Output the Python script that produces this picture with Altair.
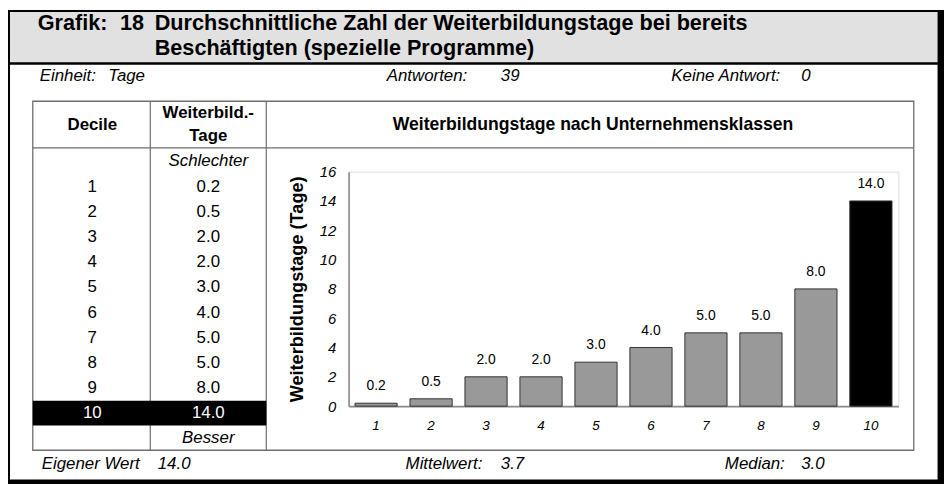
import altair as alt
import pandas as pd

# ---------------- data ----------------
deciles = [1, 2, 3, 4, 5, 6, 7, 8, 9, 10]
tage = [0.2, 0.5, 2.0, 2.0, 3.0, 4.0, 5.0, 5.0, 8.0, 14.0]
eigener_decile = 10
y_ticks = [0, 2, 4, 6, 8, 10, 12, 14, 16]

title_nr = "Grafik:"
title_num = "18"
title_l1 = "Durchschnittliche Zahl der Weiterbildungstage bei bereits"
title_l2 = "Beschäftigten (spezielle Programme)"
info_labels = ["Einheit:", "Antworten:", "Keine Antwort:"]
info_values = ["Tage", "39", "0"]
foot_labels = ["Eigener Wert", "Mittelwert:", "Median:"]
foot_values = ["14.0", "3.7", "3.0"]
head_decile = "Decile"
head_tage = ["Weiterbild.-", "Tage"]
head_chart = "Weiterbildungstage nach Unternehmensklassen"
txt_schlechter = "Schlechter"
txt_besser = "Besser"
y_title = "Weiterbildungstage (Tage)"

df = pd.DataFrame({"decile": deciles, "tage": tage})

FONT = "Liberation Sans"
OX, OY = 351.5, 171.0          # page position of plot origin
W, H = 554.5, 236.5            # plot area


def px(p):
    return p - OX


def py(p):
    return p - OY


one = alt.Data(values=[{"k": 0}])


def rect(x1, x2, y1, y2, **kw):
    return alt.Chart(one).mark_rect(**kw).encode(
        x=alt.value(px(x1)), x2=alt.value(px(x2)),
        y=alt.value(py(y1)), y2=alt.value(py(y2)))


def hline(x1, x2, y, color="#000", w=1.0):
    return alt.Chart(one).mark_rule(color=color, strokeWidth=w).encode(
        x=alt.value(px(x1)), x2=alt.value(px(x2)), y=alt.value(py(y)))


def vline(x, y1, y2, color="#000", w=1.0):
    return alt.Chart(one).mark_rule(color=color, strokeWidth=w).encode(
        x=alt.value(px(x)), y=alt.value(py(y1)), y2=alt.value(py(y2)))


def text(t, x, y, size, align="left", weight="normal", style="normal", color="#000", lh=None):
    kw = dict(align=align, baseline="middle", fontSize=size, fontWeight=weight,
              fontStyle=style, color=color, font=FONT)
    if lh is not None:
        kw["lineHeight"] = lh
    return alt.Chart(one).mark_text(**kw).encode(
        x=alt.value(px(x)), y=alt.value(py(y)), text=alt.value(t))


# ---------------- decorations ----------------
TS = 21.8
IS = 17
deco = [
    rect(8, 946, 8, 62, color="#e1e1e1"),
    hline(8, 946, 62, w=2.5),
    hline(8, 946, 9, w=2),
    vline(9, 8, 486, w=2),
    rect(945.5, 952, 8, 486, color="#000"),
    rect(8, 952, 481.5, 486, color="#000"),
    text(title_nr, 38, 21, TS, weight="bold"),
    text(title_num, 121, 21, TS, weight="bold"),
    text(title_l1, 156, 21, TS, weight="bold"),
    text(title_l2, 156, 46, TS, weight="bold"),
    text(info_labels[0], 40, 75, IS, style="italic"),
    text(info_values[0], 109, 75, IS, style="italic"),
    text(info_labels[1], 390, 75, IS, style="italic"),
    text(info_values[1], 505, 75, IS, style="italic"),
    text(info_labels[2], 677, 75, IS, style="italic"),
    text(info_values[2], 808, 75, IS, style="italic"),
    text(foot_labels[0], 42, 466, IS, style="italic"),
    text(foot_values[0], 159, 466, IS, style="italic"),
    text(foot_labels[1], 409, 466, IS, style="italic"),
    text(foot_values[1], 505, 466, IS, style="italic"),
    text(foot_labels[2], 731, 466, IS, style="italic"),
    text(foot_values[2], 808, 466, IS, style="italic"),
    # table frame
    rect(33, 921.5, 100, 452, fillOpacity=0, stroke="#6e6e6e", strokeWidth=1.3),
    hline(33, 921.5, 147, color="#6e6e6e", w=1.3),
    vline(151.5, 100, 452, color="#6e6e6e", w=1.2),
    vline(268.5, 100, 452, color="#6e6e6e", w=1.2),
    rect(33, 268.5, 402, 427, color="#000"),
    text(head_decile, 93, 124, 17, align="center", weight="bold"),
    text(head_tage, 210, 112, 17, align="center", weight="bold", lh=23),
    text(head_chart, 598, 124, 17.7, align="center", weight="bold"),
    text(txt_schlechter, 210, 160, 17, align="center", style="italic"),
    text(txt_besser, 210, 440, 17, align="center", style="italic"),
]

# ---------------- table values ----------------
row_scale = alt.Scale(type="point", range=[py(186.5), py(414.5)], padding=0)
is_own = alt.datum.decile == eigener_decile
txt_color = alt.condition(is_own, alt.value("white"), alt.value("black"))

tab_dec = alt.Chart(df).mark_text(align="center", baseline="middle", fontSize=17, font=FONT).encode(
    x=alt.value(px(93)),
    y=alt.Y("decile:O", scale=row_scale, axis=None),
    text=alt.Text("decile:O"),
    color=txt_color,
)
tab_val = alt.Chart(df).mark_text(align="center", baseline="middle", fontSize=17, font=FONT).encode(
    x=alt.value(px(210)),
    y=alt.Y("decile:O", scale=row_scale, axis=None),
    text=alt.Text("tage:Q", format=".1f"),
    color=txt_color,
)
table = alt.layer(tab_dec, tab_val)

# ---------------- bar chart ----------------
y_axis = alt.Axis(values=y_ticks, tickCount=len(y_ticks), ticks=False, grid=False, labelPadding=13,
                  labelOverlap=False, labelFontSize=15, labelFontStyle="italic", labelFont=FONT,
                  labelColor="#000", domainColor="#8a8a8a", domainWidth=1.6,
                  titleFont=FONT, titleFontSize=18.3, titleFontWeight="bold",
                  titleColor="#000", titlePadding=13)
xenc = alt.X("decile:O", title=None,
             scale=alt.Scale(paddingInner=0.233, paddingOuter=0.1165),
             axis=alt.Axis(labelAngle=0, ticks=False, labelPadding=13, labelFontSize=13.5,
                           labelFontStyle="italic", labelFont=FONT, labelColor="#000",
                           domainColor="#8a8a8a", domainWidth=1.6))
yenc = alt.Y("tage:Q", title=y_title, scale=alt.Scale(domain=[0, 16], nice=False), axis=y_axis)

bars = alt.Chart(df).mark_bar(stroke="#333", strokeWidth=1).encode(
    x=xenc, y=yenc,
    color=alt.condition(is_own, alt.value("#000"), alt.value("#999999")),
)
labels = alt.Chart(df).mark_text(baseline="middle", dy=-17, fontSize=14, font=FONT, color="#000").encode(
    x=xenc, y=yenc,
    text=alt.Text("tage:Q", format=".1f"),
)
barchart = alt.layer(bars, labels)

chart = alt.layer(*deco, barchart, table).resolve_scale(y="independent").properties(
    width=W, height=H,
    autosize=alt.AutoSizeParams(type="none"),
    padding={"left": OX - 8, "top": OY - 8, "right": 944 - (OX - 8) - W, "bottom": 478 - (OY - 8) - H},
).configure_view(stroke=None).configure(font=FONT)

chart.save("out.html", embed_options={"renderer": "svg", "actions": False})
